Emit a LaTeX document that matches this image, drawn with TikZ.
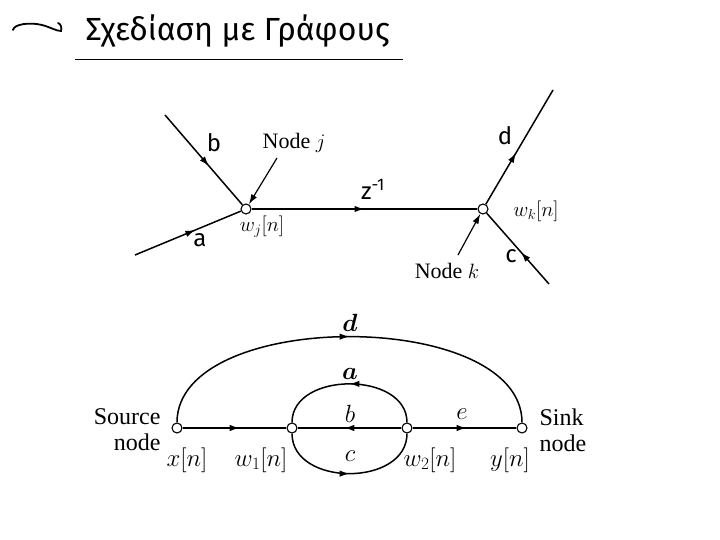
\documentclass[tikz,border=0pt]{standalone}
\usepackage{amsmath}
\usepackage{fontspec}
\setmainfont{Liberation Serif}
\newfontfamily\handfont{Fira Sans}
\usetikzlibrary{arrows.meta,decorations.markings}

\tikzset{
  sfgnode/.style={circle,draw,fill=white,inner sep=0pt,minimum size=10pt,line width=1.1pt},
  branch/.style={line width=1.5pt,postaction=decorate,
    decoration={markings,mark=at position #1 with {\arrow{Latex[length=10pt,width=6.5pt]}}}},
  branch/.default=0.5,
  pointer/.style={line width=1.2pt,-{Latex[length=10pt,width=6.5pt]}},
  hand/.style={font=\handfont\fontsize{24}{26}\selectfont},
  toplabel/.style={font=\fontsize{22}{24}\selectfont},
  botlabel/.style={font=\fontsize{24}{26}\selectfont},
}

\begin{document}
\begin{tikzpicture}[x=1pt,y=-1pt]
  \useasboundingbox (0,0) rectangle (720,540);

  % title
  \draw[line width=1.8pt,line cap=round] (13,30) .. controls (14,24) and (30,22) .. (42,25)
        .. controls (50,27) and (56,31) .. (61,31) .. controls (62,28) and (61,24) .. (58,23);
  \node[anchor=west,font=\handfont\fontsize{32}{34}\selectfont] (title) at (82,31) {Σχεδίαση με Γράφους};
  \draw[line width=0.9pt] (75,59) -- (403,59);

  % nodes j and k
  \node[sfgnode] (wj) at (246,209) {};
  \node[sfgnode] (wk) at (483,209) {};
  \coordinate (bin) at (165,115);
  \coordinate (ain) at (135,255);
  \coordinate (dout) at (553,90);
  \coordinate (cin) at (549,284);
  \coordinate (pj) at (277,158);
  \coordinate (pk) at (458,255);

  \draw[branch=0.57] (bin) -- (wj);
  \draw[branch=0.57] (ain) -- (wj);
  \draw[branch=0.5] (wj) -- (wk);
  \draw[branch=0.45] (wk) -- (dout);
  \draw[branch=0.45] (cin) -- (wk);
  \draw[pointer] (pj) -- (wj);
  \draw[pointer] (pk) -- (wk);

  \node[hand] (lb) at (214,143) {b};
  \node[hand] (la) at (200,240) {a};
  \node[hand] (lz) at (373,189) {z\textsuperscript{-1}};
  \node[hand] (ld) at (505,136) {d};
  \node[hand] (lc) at (511,256) {c};
  \node[toplabel] (nj) at (294,143) {Node $j$};
  \node[toplabel] (nk) at (447,271) {Node $k$};
  \node[toplabel] (lwj) at (262,227) {$w_j[n]$};
  \node[toplabel] (lwk) at (536,211) {$w_k[n]$};

  % source to sink
  \node[sfgnode] (x) at (177,428) {};
  \node[sfgnode] (w1) at (292,428) {};
  \node[sfgnode] (w2) at (407,428) {};
  \node[sfgnode] (y) at (522,428) {};

  \draw[branch=0.55] (x) -- (w1);
  \draw[branch=0.55] (w2) -- (w1);
  \draw[branch=0.52] (w2) -- (y);
  \draw[branch=0.5] (x) .. controls +(0,-120) and +(0,-120) .. (y);
  \draw[branch=0.5] (w2) .. controls +(0,-57) and +(0,-57) .. (w1);
  \draw[branch=0.5] (w1) .. controls +(0,59) and +(0,59) .. (w2);

  \node[botlabel,anchor=east,align=right] (src) at (164,430) {Source\\node};
  \node[botlabel,anchor=west,align=left] (snk) at (536,430) {Sink\\node};
  \node[botlabel] (lx) at (187,460) {$x[n]$};
  \node[botlabel] (lw1) at (261,460) {$w_1[n]$};
  \node[botlabel] (lw2) at (430,460) {$w_2[n]$};
  \node[botlabel] (ly) at (510,460) {$y[n]$};
  \node[botlabel] (ld2) at (350,323) {$\boldsymbol{d}$};
  \node[botlabel] (la2) at (350,374) {$\boldsymbol{a}$};
  \node[botlabel] (lb2) at (350,414) {$b$};
  \node[botlabel] (le) at (462,414) {$e$};
  \node[botlabel] (lc2) at (350,456) {$c$};
\end{tikzpicture}
\end{document}
